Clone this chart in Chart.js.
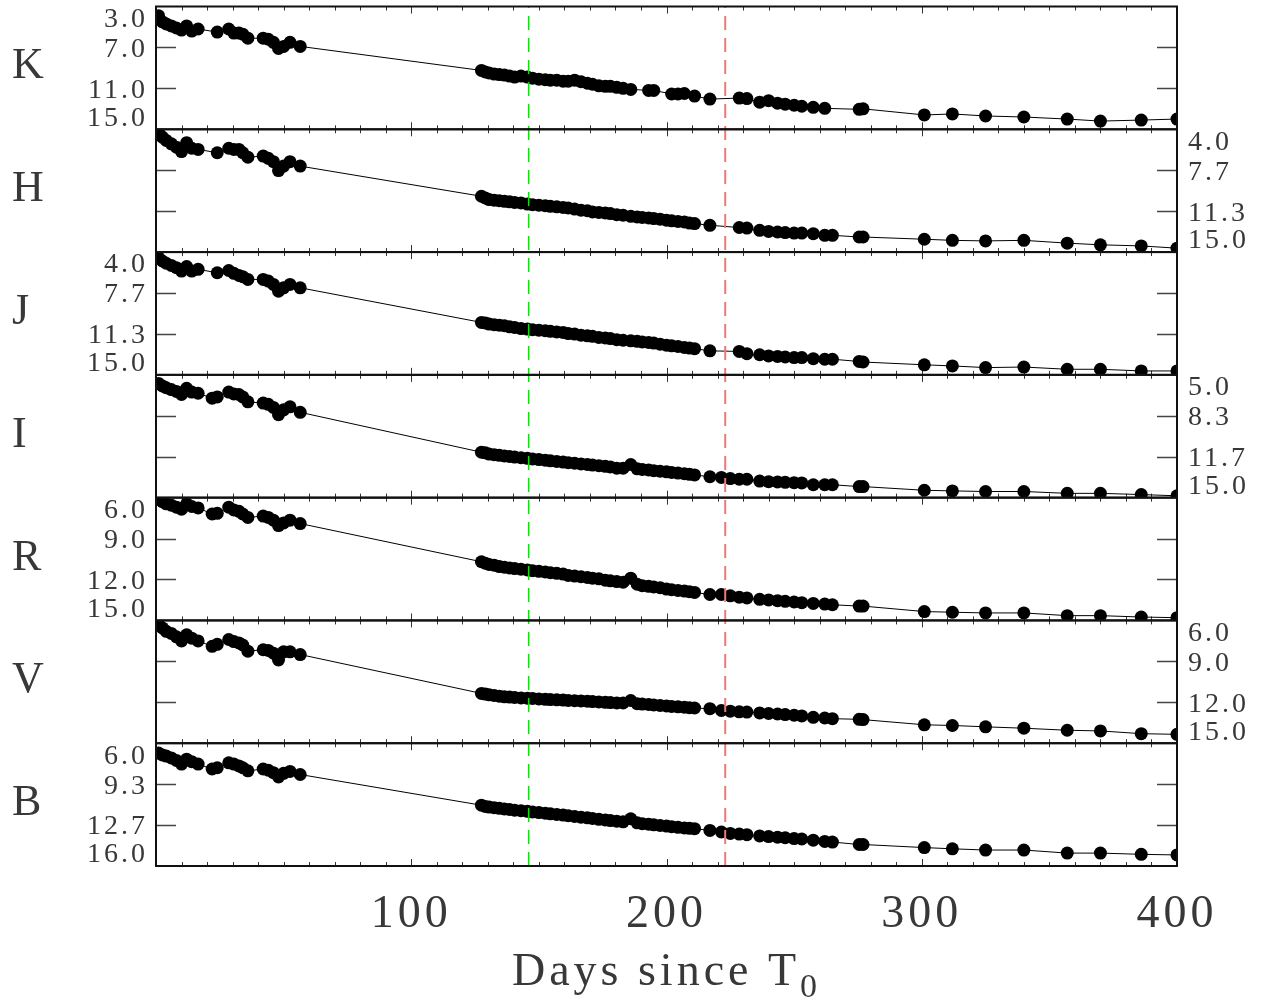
<!DOCTYPE html>
<html lang="en">
<head>
<meta charset="UTF-8" />
<title>Light curves K H J I R V B</title>
<script src="https://cdn.jsdelivr.net/npm/chart.js@4"></script>
<style>
  html, body { margin: 0; padding: 0; background: #fff; }
  #wrap { width: 1277px; height: 1003px; }
</style>
</head>
<body>
<div id="wrap"><canvas id="lc" width="1277" height="1003"></canvas></div>
<script>
// epochs (days since T0), shared by every band
const days = [
  1, 2.5, 4, 6, 8, 10, 12, 14, 16.5, 22, 24, 28.5, 30.5, 32.5, 34, 36, 42, 44, 46, 48, 50, 52.5, 56.5,
  127.5, 129, 130.5, 132.5, 134.5, 136.5, 138.5, 140.5, 143, 145.5, 147.5, 150, 152.5, 154.5, 157, 159.5,
  161.5, 164, 166.5, 169, 171, 173.5, 176, 178, 180.5, 183, 186, 188.5, 190.5, 193, 195, 197.5, 200, 202,
  204.5, 207, 209, 211, 217, 221.5, 225, 228.5, 231.5, 236.5, 240, 243.5, 246.5, 250, 253, 257.5, 262, 265,
  275.5, 277, 301, 312, 325, 340, 357, 370, 386, 400
];

const bandNames = ['K', 'H', 'J', 'I', 'R', 'V', 'B'];
const bandMin = [3, 4, 4, 5, 6, 6, 6];
const bandMax = [15, 15, 15, 15, 15, 15, 16];
const bandTicks = [
  ['3.0', '7.0', '11.0', '15.0'],
  ['4.0', '7.7', '11.3', '15.0'],
  ['4.0', '7.7', '11.3', '15.0'],
  ['5.0', '8.3', '11.7', '15.0'],
  ['6.0', '9.0', '12.0', '15.0'],
  ['6.0', '9.0', '12.0', '15.0'],
  ['6.0', '9.3', '12.7', '16.0']
];
const tickSide = ['left', 'right', 'left', 'right', 'left', 'right', 'left'];

const xTicks = [100, 200, 300, 400];
const markerDays = [146, 223];

// magnitudes, null = no observation in that band
const magK = [
  3.9, 4.5, 4.7, 4.9, 5.1, 5.3, 4.9, 5.4, 5.2, null, 5.5, 5.2, 5.6, 5.6, 5.7, 6.1, 6.1, 6.2, 6.5, 7.1, 6.9, 6.5, 6.9,
  9.25, 9.4, 9.5, 9.6, 9.65, 9.7, 9.8, 9.9, 9.8, 9.9, 10.0, 10.1, 10.15, 10.2, 10.2, 10.3, 10.3, 10.2, 10.35, 10.5,
  10.6, 10.75, 10.8, 10.8, 10.9, 11.0, 11.1, null, null, 11.2, 11.2, null, null, 11.55, 11.55, 11.5, null, 11.75,
  12.05, null, null, 11.95, 12.0, 12.35, 12.2, 12.45, 12.55, 12.65, 12.75, 12.85, 12.95, null,
  13.05, 13.0, 13.6, 13.5, 13.7, 13.8, 14.0, 14.2, 14.1, 14.0
];
const magH = [
  4.3, 4.7, 5.0, 5.3, 5.6, 6.0, 5.2, 5.7, 5.8, null, 6.1, 5.7, 5.8, 5.8, 6.1, 6.5, 6.4, 6.6, 6.9, 7.7, 7.3, 6.9, 7.3,
  10.0, 10.15, 10.3, 10.35, 10.4, 10.45, 10.5, 10.55, 10.6, 10.7, 10.75, 10.8, 10.85, 10.9, 10.95, 11.0, 11.05,
  11.15, 11.25, 11.3, 11.4, 11.45, 11.5, 11.55, 11.65, 11.7, 11.8, 11.85, 11.9, 11.95, 12.0, 12.05, 12.15, 12.2,
  12.25, 12.3, 12.4, 12.45, 12.6, null, null, 12.8, 12.85, 13.05, 13.15, 13.2, 13.25, 13.3, 13.3, 13.35, 13.5, 13.5,
  13.65, 13.65, 13.85, 13.95, 14.0, 13.95, 14.2, 14.35, 14.45, 14.65
];
const magJ = [
  4.5, 4.8, 5.0, 5.2, 5.4, 5.7, 5.3, 5.7, 5.55, null, 5.85, 5.65, 5.9, 6.1, 6.2, 6.45, 6.45, 6.6, 6.9, 7.5, 7.2, 6.9, 7.2,
  10.3, 10.35, 10.45, 10.5, 10.55, 10.6, 10.7, 10.75, 10.85, 10.9, 10.95, 11.0, 11.05, 11.1, 11.15, 11.2, 11.3,
  11.35, 11.45, 11.5, 11.55, 11.65, 11.7, 11.75, 11.85, 11.9, 11.95, 12.0, 12.05, 12.1, 12.15, 12.25, 12.35, 12.4,
  12.45, 12.55, 12.6, 12.65, 12.85, null, null, 12.9, 13.1, 13.2, 13.3, 13.35, 13.4, 13.45, 13.45, 13.55, 13.6, 13.6,
  13.8, 13.85, 14.1, 14.2, 14.35, 14.3, 14.5, 14.5, 14.65, 14.65
];
const magI = [
  5.7, 5.9, 6.05, 6.2, 6.35, 6.6, 6.1, 6.4, 6.5, 6.9, 6.8, 6.4, 6.55, 6.6, 6.8, 7.2, 7.3, 7.4, 7.65, 8.25, 7.85, 7.6, 8.05,
  11.3, 11.35, 11.45, 11.5, 11.55, 11.6, 11.65, 11.7, 11.75, 11.8, 11.85, 11.9, 11.95, 12.0, 12.05, 12.1, 12.15,
  12.2, 12.25, 12.3, 12.35, 12.4, 12.45, 12.5, 12.6, 12.6, 12.3, 12.65, 12.7, 12.75, 12.8, 12.85, 12.9, 12.95,
  13.0, 13.05, 13.1, 13.15, 13.3, 13.35, 13.45, 13.5, 13.5, 13.65, 13.7, 13.72, 13.75, 13.78, 13.8, 13.95, 13.95, 13.95,
  14.1, 14.1, 14.4, 14.45, 14.5, 14.5, 14.65, 14.65, 14.75, 14.85
];
const magR = [
  6.1, 6.3, 6.45, 6.55, 6.7, 6.85, 6.45, 6.65, 6.75, 7.2, 7.15, 6.7, 6.9, 7.0, 7.2, 7.45, 7.35, 7.45, 7.65, 8.05, 7.85, 7.65, 7.9,
  10.7, 10.8, 10.9, 10.95, 11.05, 11.1, 11.15, 11.2, 11.25, 11.3, 11.35, 11.4, 11.45, 11.5, 11.55, 11.6, 11.7,
  11.75, 11.8, 11.85, 11.9, 11.95, 12.05, 12.1, 12.15, 12.2, 11.9, 12.35, 12.45, 12.5, 12.55, 12.6, 12.7, 12.75,
  12.8, 12.85, 12.9, 12.95, 13.1, 13.1, 13.2, 13.3, 13.35, 13.45, 13.5, 13.55, 13.6, 13.65, 13.7, 13.75, 13.8, 13.85,
  13.95, 13.95, 14.35, 14.4, 14.45, 14.45, 14.65, 14.65, 14.75, 14.8
];
const magV = [
  6.3, 6.55, 6.8, 6.95, 7.2, 7.5, 7.05, 7.3, 7.5, 7.9, 7.75, 7.4, 7.55, 7.65, 7.8, 8.25, 8.15, 8.2, 8.4, 8.9, 8.3, 8.3, 8.5,
  11.35, 11.4, 11.45, 11.5, 11.55, 11.6, 11.62, 11.65, 11.68, 11.7, 11.72, 11.75, 11.78, 11.8, 11.82, 11.84, 11.86,
  11.88, 11.9, 11.92, 11.95, 11.97, 12.0, 12.02, 12.05, 12.05, 11.87, 12.1, 12.13, 12.16, 12.2, 12.23, 12.27, 12.3,
  12.33, 12.36, 12.4, 12.42, 12.47, 12.6, 12.65, 12.7, 12.72, 12.78, 12.82, 12.86, 12.9, 12.95, 13.0, 13.1, 13.15, 13.2,
  13.25, 13.27, 13.65, 13.7, 13.8, 13.9, 14.05, 14.1, 14.3, 14.35
];
const magB = [
  6.8, 6.95, 7.05, 7.2, 7.4, 7.7, 7.3, 7.5, 7.7, 8.1, 8.0, 7.6, 7.7, 7.85, 8.0, 8.25, 8.1, 8.2, 8.4, 8.75, 8.45, 8.3, 8.55,
  11.05, 11.15, 11.2, 11.25, 11.3, 11.35, 11.4, 11.45, 11.5, 11.55, 11.6, 11.65, 11.7, 11.75, 11.8, 11.85, 11.9,
  11.97, 12.02, 12.08, 12.13, 12.2, 12.25, 12.3, 12.35, 12.4, 12.15, 12.48, 12.55, 12.6, 12.65, 12.7, 12.75, 12.8,
  12.85, 12.9, 12.93, 12.96, 13.1, 13.23, 13.35, 13.4, 13.45, 13.55, 13.6, 13.65, 13.7, 13.77, 13.8, 13.9, 14.0, 14.05,
  14.25, 14.25, 14.5, 14.6, 14.7, 14.7, 14.95, 14.95, 15.05, 15.1
];
const bandMags = [magK, magH, magJ, magI, magR, magV, magB];

const SERIF = "'Liberation Serif', 'DejaVu Serif', serif";
const INK = '#383838';

// scales: one shared x axis, the seven band axes stacked top to bottom
const scales = {
  x: {
    type: 'linear', min: 0, max: 400,
    grid: { display: false, drawTicks: false },
    border: { display: false },
    ticks: {
      stepSize: 100, padding: 21, color: INK, maxRotation: 0,
      font: { family: SERIF, size: 46 },
      callback: v => xTicks.includes(v) ? String(v) : ''
    },
    afterFit: s => { s.height = 137; }
  },
  yFull: { type: 'linear', min: 0, max: 1, display: false }
};
bandNames.forEach((b, i) => {
  scales['y' + b] = {
    type: 'linear', position: 'left', stack: 'bands', stackWeight: 1, weight: 7 - i,
    min: bandMin[i], max: bandMax[i], reverse: true,
    grid: { display: false, drawTicks: false },
    border: { display: false },
    ticks: { display: false },
    afterFit: s => { s.width = 0; }
  };
});

const datasets = [];
markerDays.forEach((d, i) => {
  datasets.push({
    data: [{ x: d, y: 0 }, { x: d, y: 1 }],
    xAxisID: 'x', yAxisID: 'yFull',
    borderColor: i === 0 ? '#11dd11' : '#f07878',
    borderWidth: i === 0 ? 1.5 : 2,
    borderDash: [14, 8],
    pointRadius: 0, order: 0, clip: 0
  });
});
bandNames.forEach((b, i) => {
  datasets.push({
    label: b,
    data: days.map((d, j) => ({ x: d, y: bandMags[i][j] })),
    xAxisID: 'x', yAxisID: 'y' + b,
    borderColor: '#000', borderWidth: 1,
    pointRadius: 6.5, pointBackgroundColor: '#000', pointBorderWidth: 0,
    spanGaps: true, clip: 0, order: 1
  });
});

// frames, inward ticks, tick labels and band names
const panelFrame = {
  id: 'panelFrame',
  beforeDraw(chart) {
    chart.ctx.letterSpacing = '4px';
  },
  beforeDatasetsDraw(chart) {
    const ctx = chart.ctx, xs = chart.scales.x;
    const L = chart.chartArea.left, R = chart.chartArea.right;
    ctx.save();
    bandNames.forEach((b, i) => {
      const ys = chart.scales['y' + b];
      const T = ys.top, B = ys.bottom;
      ctx.strokeStyle = '#333';
      ctx.lineWidth = 1;
      ctx.beginPath();
      for (let d = 10; d < 400; d += 10) {
        const px = Math.round(xs.getPixelForValue(d)) + 0.5;
        const len = d % 100 === 0 ? 7 : 4;
        ctx.moveTo(px, T); ctx.lineTo(px, T + len);
        ctx.moveTo(px, B); ctx.lineTo(px, B - len);
      }
      ctx.stroke();
      ctx.strokeStyle = '#444';
      ctx.lineWidth = 1.5;
      ctx.beginPath();
      for (let j = 1; j < 3; j++) {
        const v = bandMin[i] + j * (bandMax[i] - bandMin[i]) / 3;
        const py = Math.round(ys.getPixelForValue(v)) + 0.5;
        ctx.moveTo(L, py); ctx.lineTo(L + 20, py);
        ctx.moveTo(R - 20, py); ctx.lineTo(R, py);
      }
      ctx.stroke();
    });
    ctx.restore();
  },
  afterDatasetsDraw(chart) {
    const ctx = chart.ctx;
    const L = chart.chartArea.left, R = chart.chartArea.right;
    ctx.save();
    ctx.strokeStyle = '#111';
    ctx.lineWidth = 2;
    bandNames.forEach(b => {
      const ys = chart.scales['y' + b];
      ctx.strokeRect(L, ys.top, R - L, ys.bottom - ys.top);
    });
    ctx.restore();
  },
  afterDraw(chart) {
    const ctx = chart.ctx;
    const L = chart.chartArea.left, R = chart.chartArea.right;
    ctx.save();
    ctx.fillStyle = INK;
    ctx.textBaseline = 'middle';
    bandNames.forEach((b, i) => {
      const ys = chart.scales['y' + b];
      const T = ys.top, B = ys.bottom;
      // band name
      ctx.letterSpacing = '0px';
      ctx.font = '44px ' + SERIF;
      ctx.textAlign = 'left';
      ctx.fillText(b, 12, (T + B) / 2 - 1);
      // tick labels, outer ones kept inside the panel
      ctx.letterSpacing = '3px';
      ctx.font = '28px ' + SERIF;
      const left = tickSide[i] === 'left';
      ctx.textAlign = left ? 'right' : 'left';
      const tx = left ? L - 8 : R + 11;
      bandTicks[i].forEach((lab, j) => {
        const v = bandMin[i] + j * (bandMax[i] - bandMin[i]) / 3;
        let py = ys.getPixelForValue(v) + 2;
        py = Math.min(Math.max(py, T + 13), B - 11);
        ctx.fillText(lab, tx, py);
      });
    });
    // axis title with subscript
    ctx.textBaseline = 'alphabetic';
    ctx.textAlign = 'left';
    ctx.letterSpacing = '4px';
    ctx.font = '46px ' + SERIF;
    const main = 'Days since T';
    const wMain = ctx.measureText(main).width;
    ctx.font = '34px ' + SERIF;
    const wSub = ctx.measureText('0').width;
    const x0 = (L + R) / 2 - (wMain + wSub) / 2;
    ctx.font = '46px ' + SERIF;
    ctx.fillText(main, x0, 985);
    ctx.font = '34px ' + SERIF;
    ctx.fillText('0', x0 + wMain, 997);
    ctx.restore();
  }
};

new Chart(document.getElementById('lc'), {
  type: 'line',
  data: { datasets },
  options: {
    responsive: false,
    animation: false,
    events: [],
    layout: { padding: { left: 156, right: 100, top: 5, bottom: 0 } },
    plugins: { legend: { display: false }, tooltip: { enabled: false } },
    scales
  },
  plugins: [panelFrame]
});
</script>
</body>
</html>
